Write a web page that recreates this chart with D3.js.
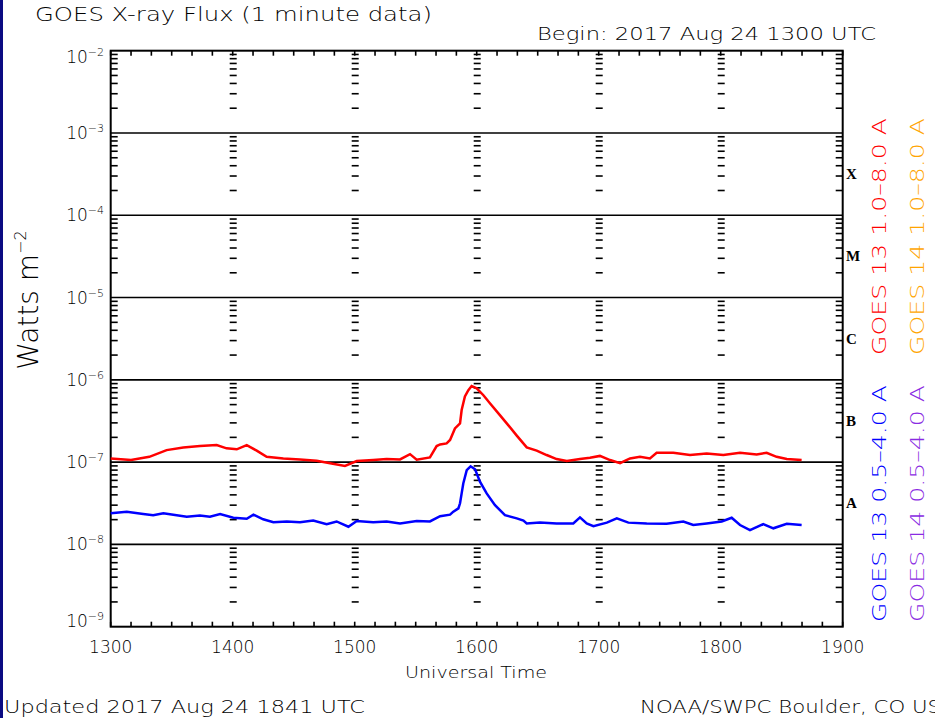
<!DOCTYPE html>
<html><head><meta charset="utf-8">
<script src="https://cdn.jsdelivr.net/npm/d3@7"></script>
<style>html,body{margin:0;padding:0;background:#fff;}svg{display:block;}</style>
</head><body>
<script>
// ---- data (minutes after 1300 UTC, flux W m^-2) ----
const longTimes = [0,10,19,27.5,35.7,43.9,52.1,57,62,66.9,71.8,76.7,84.9,93.1,101.3,107.9,115.2,121,129.1,135.7,142.3,147.2,150.5,157,160.3,162,165.2,166.9,169.3,171.8,172.6,174.2,175.9,177.5,180,183.3,186.5,191.5,195.6,199.7,204.6,209.5,214.4,219.3,224.3,230.8,235.7,240.6,245.6,250.5,255.4,260.3,265.2,268.5,276.7,284.9,293.1,301.3,309.5,317.7,322.6,327.5,332.5,339.8];
const longFlux = [1.11e-7,1.06e-7,1.16e-7,1.40e-7,1.51e-7,1.57e-7,1.61e-7,1.47e-7,1.43e-7,1.61e-7,1.38e-7,1.16e-7,1.11e-7,1.08e-7,1.04e-7,0.97e-7,0.90e-7,1.03e-7,1.06e-7,1.09e-7,1.08e-7,1.25e-7,1.07e-7,1.14e-7,1.57e-7,1.64e-7,1.69e-7,1.86e-7,2.57e-7,2.96e-7,4.3e-7,6.3e-7,7.5e-7,8.4e-7,7.9e-7,6.5e-7,5.2e-7,3.7e-7,2.8e-7,2.1e-7,1.51e-7,1.38e-7,1.22e-7,1.09e-7,1.03e-7,1.09e-7,1.13e-7,1.19e-7,1.06e-7,0.97e-7,1.11e-7,1.16e-7,1.11e-7,1.30e-7,1.30e-7,1.22e-7,1.27e-7,1.22e-7,1.30e-7,1.24e-7,1.30e-7,1.16e-7,1.09e-7,1.06e-7];
const shortTimes = [0,7.9,16,20.9,25.9,30.8,37.4,43.9,48.8,53.8,60.3,66.9,70.2,75,80,86.6,93.1,99.6,106.2,111.1,116.9,121,129.1,135.7,142.3,150.5,157,162,166.9,168.5,171,171.8,172.6,173.4,175.1,177,179.2,181.6,184.9,189,193.9,199.7,203,204.6,211.1,219.3,227.5,230.8,234.1,237.4,244,248.9,254.6,263.6,273.4,281.6,286.5,293.1,300.5,305.4,309.5,314.4,320.9,325.9,332.5,339.8];
const shortFlux = [2.39e-8,2.50e-8,2.34e-8,2.26e-8,2.39e-8,2.30e-8,2.17e-8,2.24e-8,2.17e-8,2.34e-8,2.11e-8,2.05e-8,2.30e-8,2.02e-8,1.86e-8,1.90e-8,1.86e-8,1.95e-8,1.76e-8,1.90e-8,1.64e-8,1.93e-8,1.86e-8,1.90e-8,1.80e-8,1.93e-8,1.90e-8,2.2e-8,2.30e-8,2.5e-8,2.74e-8,3.16e-8,4.17e-8,5.5e-8,8.0e-8,8.9e-8,8.2e-8,5.8e-8,4.17e-8,3.0e-8,2.27e-8,2.07e-8,1.95e-8,1.80e-8,1.84e-8,1.80e-8,1.80e-8,2.13e-8,1.80e-8,1.67e-8,1.84e-8,2.07e-8,1.84e-8,1.80e-8,1.78e-8,1.90e-8,1.72e-8,1.80e-8,1.90e-8,2.11e-8,1.72e-8,1.49e-8,1.76e-8,1.57e-8,1.78e-8,1.72e-8];
const hourLabels = ["1300","1400","1500","1600","1700","1800","1900"];
const decadeExps = [-2,-3,-4,-5,-6,-7,-8,-9];
const classLetters = ["X","M","C","B","A"];
const classBottoms = [1e-4,1e-5,1e-6,1e-7,1e-8];
const seriesLabels = [
  {text:"GOES 13 1.0\u20138.0 A", color:"#ff0000", col:0, band:"long"},
  {text:"GOES 14 1.0\u20138.0 A", color:"#ffa500", col:1, band:"long"},
  {text:"GOES 13 0.5\u20134.0 A", color:"#0000ff", col:0, band:"short"},
  {text:"GOES 14 0.5\u20134.0 A", color:"#8a2be2", col:1, band:"short"}
];

const W=935,H=718;
const L=110.7,R=842.7,T=50.7,B=626.7;
const svg=d3.select("body").append("svg").attr("width",W).attr("height",H);
svg.append("rect").attr("width",W).attr("height",H).attr("fill","#fff");
svg.append("rect").attr("x",0).attr("y",0).attr("width",3).attr("height",H).attr("fill","#0b0b82");

const x=d3.scaleLinear().domain([0,360]).range([L,R]);
const y=d3.scaleLog().domain([1e-9,1e-2]).range([B,T]);
const font="'DejaVu Sans', 'Liberation Sans', sans-serif";
const fw=200;

// minor log ticks
const minorVals=[];
for(let e=-9;e<-2;e++){for(let m=2;m<=9;m++){minorVals.push(m*Math.pow(10,e));}}
const g=svg.append("g").attr("stroke","#000").attr("fill","none");
g.selectAll("line.grid").data(decadeExps.slice(1,-1)).join("line")
 .attr("x1",L).attr("x2",R).attr("y1",e=>y(Math.pow(10,e))).attr("y2",e=>y(Math.pow(10,e))).attr("stroke-width",1.6);
g.append("g").selectAll("line").data(minorVals).join("line")
 .attr("x1",L).attr("x2",L+7).attr("y1",d=>y(d)).attr("y2",d=>y(d)).attr("stroke-width",1.6);
g.append("g").selectAll("line").data(minorVals).join("line")
 .attr("x1",R-7).attr("x2",R).attr("y1",d=>y(d)).attr("y2",d=>y(d)).attr("stroke-width",1.6);
const innerHours=[60,120,180,240,300];
innerHours.forEach(h=>{
  g.append("g").selectAll("line").data(minorVals).join("line")
   .attr("x1",x(h)-3).attr("x2",x(h)+4).attr("y1",d=>y(d)).attr("y2",d=>y(d)).attr("stroke-width",1.6);
});
const tMinor=d3.range(0,361,10);
g.append("g").selectAll("line").data(tMinor).join("line")
 .attr("x1",d=>x(d)).attr("x2",d=>x(d)).attr("y1",B).attr("y2",B-5).attr("stroke-width",1.6);
g.append("g").selectAll("line").data(tMinor).join("line")
 .attr("x1",d=>x(d)).attr("x2",d=>x(d)).attr("y1",T).attr("y2",T+5).attr("stroke-width",1.6);
g.append("rect").attr("x",L).attr("y",T).attr("width",R-L).attr("height",B-T).attr("stroke-width",2);

// y tick labels
decadeExps.forEach((e,i)=>{
  const yy=y(Math.pow(10,e));
  const base = i===0 ? yy+12 : (i===decadeExps.length-1 ? yy : yy+6);
  const t=svg.append("text").attr("x",104).attr("y",base).attr("text-anchor","end")
   .attr("font-family",font).attr("font-weight",fw).attr("font-size",17).attr("fill","#000");
  t.append("tspan").text("10");
  t.append("tspan").attr("dy",-7).attr("font-size",11).text("\u2212"+Math.abs(e));
});
// x tick labels
svg.selectAll("text.xl").data(hourLabels).join("text")
 .attr("x",(d,i)=>x(i*60)).attr("y",653).attr("text-anchor","middle")
 .attr("font-family",font).attr("font-weight",fw).attr("font-size",17).attr("fill","#000").text(d=>d);
svg.append("text").attr("x",476).attr("y",678).attr("text-anchor","middle")
 .attr("font-family",font).attr("font-weight",fw).attr("font-size",16)
 .attr("textLength",142).attr("lengthAdjust","spacingAndGlyphs").text("Universal Time");

// Titles
svg.append("text").attr("x",35).attr("y",21).attr("font-family",font).attr("font-weight",fw).attr("font-size",19)
 .attr("textLength",397).attr("lengthAdjust","spacingAndGlyphs").text("GOES X-ray Flux (1 minute data)");
svg.append("text").attr("x",537).attr("y",40).attr("font-family",font).attr("font-weight",fw).attr("font-size",18)
 .attr("textLength",339).attr("lengthAdjust","spacingAndGlyphs").text("Begin: 2017 Aug 24 1300 UTC");
svg.append("text").attr("x",4).attr("y",713).attr("font-family",font).attr("font-weight",fw).attr("font-size",18)
 .attr("textLength",361).attr("lengthAdjust","spacingAndGlyphs").text("Updated 2017 Aug 24 1841 UTC");
svg.append("text").attr("x",640).attr("y",713).attr("font-family",font).attr("font-weight",fw).attr("font-size",18)
 .attr("textLength",316).attr("lengthAdjust","spacingAndGlyphs").text("NOAA/SWPC Boulder, CO USA");

// y axis title
const yt=svg.append("text").attr("transform","translate(38,300) rotate(-90)").attr("text-anchor","middle")
 .attr("font-family",font).attr("font-weight",fw).attr("font-size",28).attr("fill","#000");
yt.append("tspan").text("Watts m");
yt.append("tspan").attr("dy",-12).attr("font-size",16).text("\u22122");

// class letters
classLetters.forEach((c,i)=>{
  const yy=(y(classBottoms[i])+y(classBottoms[i]*10))/2;
  svg.append("text").attr("x",846).attr("y",yy+5).attr("font-family","'Liberation Serif','Times New Roman',serif")
   .attr("font-weight","bold").attr("font-size",15).text(c);
});

// series labels
seriesLabels.forEach(s=>{
  const bx = s.col===0 ? 886 : 924;
  const by = s.band==="long" ? 355 : 622;
  svg.append("text").attr("transform",`translate(${bx},${by}) rotate(-90)`)
   .attr("font-family",font).attr("font-weight",fw).attr("font-size",19).attr("fill",s.color)
   .attr("textLength",237).attr("lengthAdjust","spacingAndGlyphs").text(s.text);
});

// data lines
const line=d3.line().x(d=>x(d[0])).y(d=>y(d[1]));
svg.append("path").datum(d3.zip(longTimes,longFlux)).attr("d",line)
 .attr("fill","none").attr("stroke","#ff0000").attr("stroke-width",2.5);
svg.append("path").datum(d3.zip(shortTimes,shortFlux)).attr("d",line)
 .attr("fill","none").attr("stroke","#0000ff").attr("stroke-width",2.5);
</script>
</body></html>
